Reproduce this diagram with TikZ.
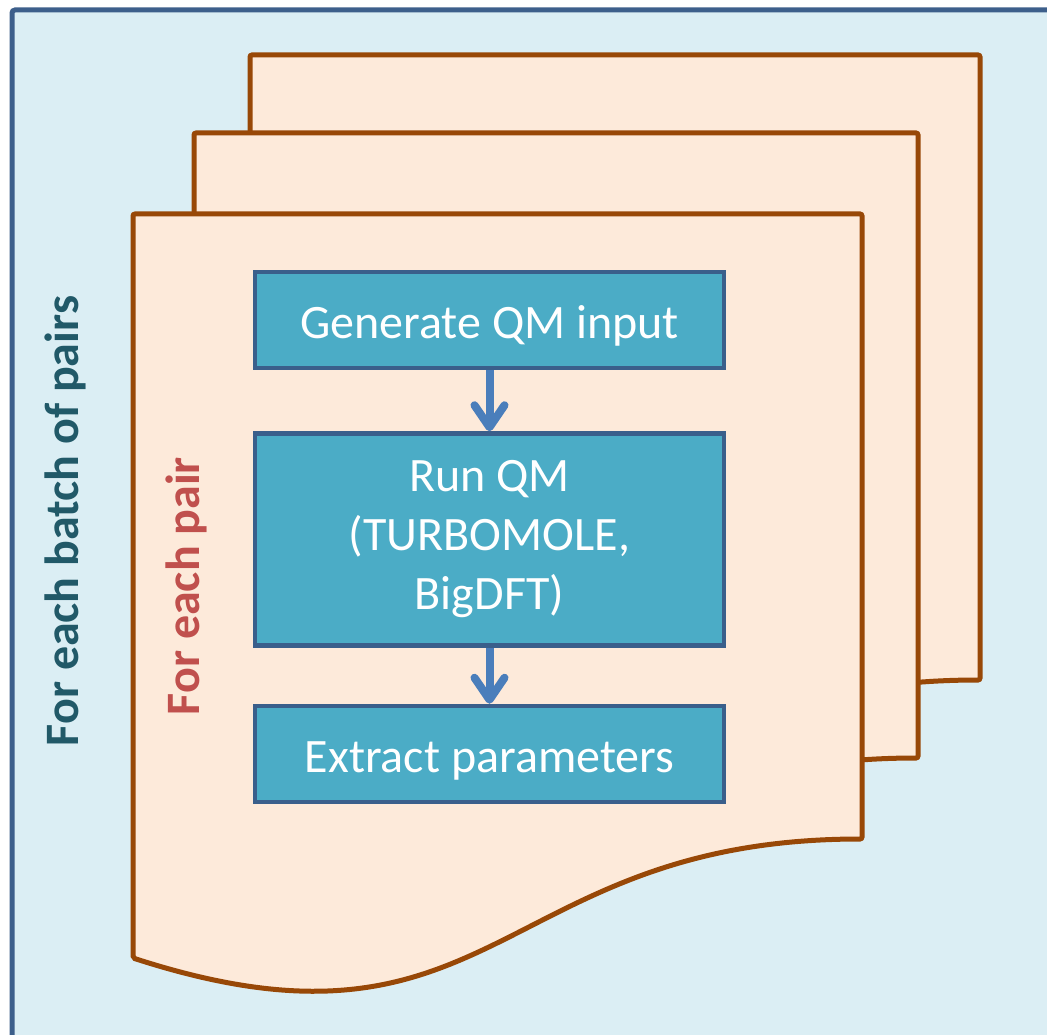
\documentclass[tikz,border=0pt]{standalone}
\usepackage{fontspec}
\setmainfont{Carlito}
\usetikzlibrary{positioning,arrows.meta}
\definecolor{batchbg}{HTML}{DBEEF4}
\definecolor{batchline}{HTML}{3D5F8B}
\definecolor{pageline}{HTML}{984807}
\definecolor{pagefill}{HTML}{FDEADA}
\definecolor{boxfill}{HTML}{4BACC6}
\definecolor{boxline}{HTML}{3A5F8B}
\definecolor{arrowblue}{HTML}{4A7EBB}
\definecolor{batchtext}{HTML}{215968}
\definecolor{pairtext}{HTML}{C0504D}

\begin{document}
\begin{tikzpicture}
  [x=1pt,y=-1pt,
   stepN/.style={draw=boxline,fill=boxfill,line width=4.5pt,text=white,
     minimum width=469pt,align=center,font=\fontsize{48}{59}\selectfont},
   shortN/.style={stepN,minimum height=96pt,text height=36pt,text depth=0pt},
   pageN/.style={draw=pageline,fill=pagefill,line width=5pt,rounded corners=2pt},
   loopL/.style={rotate=90,font=\bfseries\fontsize{48}{58}\selectfont},
   flowA/.style={line width=8pt,draw=arrowblue,-{Straight Barb[length=22pt,width=30pt,round]}},
  ]
  \useasboundingbox (0,0) rectangle (1047,1035);
  \clip (0,0) rectangle (1047,1035);

  % outer loop frame
  \draw[fill=batchbg,draw=batchline,line width=5pt,rounded corners=3pt]
    (12,10) rectangle (1070,1060);

  % stacked pages, back to front
  \foreach \px/\py/\pw in {250/55/730, 194/133/724, 133/214/729}
    \draw[pageN,shift={(\px,\py)}] (0,0) -- (\pw,0) -- (\pw,625)
      .. controls ({\pw/2},625) and ({\pw/2},862) .. (0,744) -- cycle;

 \node[shortN] (gen) at (489.5,320) {Generate QM input};
 \node[stepN,minimum height=212pt,below=61pt of gen] (run) {Run QM\\(TURBOMOLE,\\BigDFT)};
 \node[shortN,below=56pt of run] (extract) {Extract parameters};

 \draw[flowA] (gen) -- (run);
 \draw[flowA] (run) -- (extract);

 \node[loopL,text=batchtext] (batchlbl) at (65,521) {For each batch of pairs};
 \node[loopL,text=pairtext] (pairlbl) at (186,586) {For each pair};
\end{tikzpicture}
\end{document}
